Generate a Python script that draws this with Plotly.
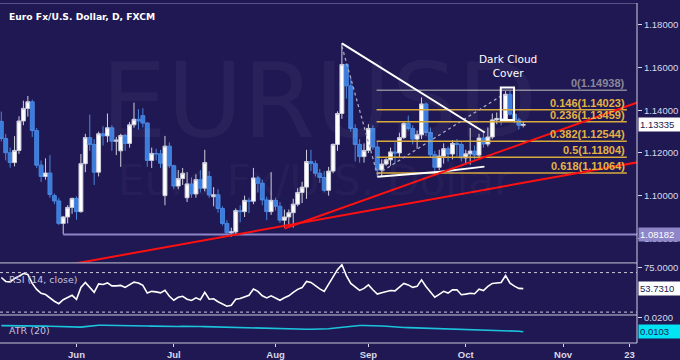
import plotly.graph_objects as go
import pandas as pd

# ---------------- data ----------------
dates = pd.bdate_range("2015-05-07", "2015-10-20").strftime("%Y-%m-%d").tolist()

open_ = [1.1348, 1.1268, 1.1201, 1.1155, 1.1212, 1.1350, 1.1409, 1.1440, 1.1305, 1.1143,
         1.1090, 1.1106, 1.1000, 1.0975, 1.0870, 1.0900, 1.0945, 1.0987, 1.0925, 1.1150,
         1.1272, 1.1240, 1.1110, 1.1290, 1.1280, 1.1318, 1.1255, 1.1210, 1.1282, 1.1245,
         1.1332, 1.1358, 1.1375, 1.1340, 1.1165, 1.1198, 1.1196, 1.1000, 1.1232, 1.1140,
         1.1045, 1.1080, 1.0990, 1.1055, 1.1008, 1.1075, 1.1035, 1.1090, 1.0995, 1.1004,
         1.0940, 1.0870, 1.0826, 1.0830, 1.0930, 1.0925, 1.0978, 1.0974, 1.1083, 1.1058,
         1.0980, 1.0925, 1.0978, 1.0950, 1.0885, 1.0900, 1.0920, 1.0960, 1.1015, 1.1040,
         1.1160, 1.1150, 1.1105, 1.1085, 1.1025, 1.1115, 1.1240, 1.1385, 1.1615, 1.1515,
         1.1315, 1.1240, 1.1183, 1.1212, 1.1315, 1.1228, 1.1120, 1.1148, 1.1168, 1.1205,
         1.1200, 1.1272, 1.1338, 1.1315, 1.1265, 1.1285, 1.1430, 1.1296, 1.1192, 1.1133,
         1.1185, 1.1220, 1.1195, 1.1245, 1.1240, 1.1177, 1.1196, 1.1209, 1.1190, 1.1270,
         1.1242, 1.1275, 1.1355, 1.1362, 1.1356, 1.1475, 1.1382, 1.1355, 1.1330]
high = [1.1394, 1.1289, 1.1225, 1.1279, 1.1372, 1.1445, 1.1467, 1.1450, 1.1317, 1.1165,
        1.1175, 1.1190, 1.1010, 1.0990, 1.0905, 1.0955, 1.0990, 1.0996, 1.1195, 1.1290,
        1.1380, 1.1265, 1.1300, 1.1325, 1.1385, 1.1330, 1.1275, 1.1290, 1.1290, 1.1345,
        1.1436, 1.1405, 1.1410, 1.1345, 1.1225, 1.1220, 1.1215, 1.1280, 1.1250, 1.1145,
        1.1120, 1.1130, 1.1110, 1.1085, 1.1100, 1.1120, 1.1215, 1.1115, 1.1040, 1.1030,
        1.0950, 1.0885, 1.0850, 1.0940, 1.0955, 1.1000, 1.0990, 1.1130, 1.1092, 1.1075,
        1.0995, 1.1110, 1.0990, 1.0970, 1.0935, 1.0935, 1.0985, 1.1035, 1.1065, 1.1215,
        1.1215, 1.1165, 1.1125, 1.1115, 1.1135, 1.1245, 1.1395, 1.1714, 1.1620, 1.1555,
        1.1335, 1.1265, 1.1245, 1.1335, 1.1330, 1.1255, 1.1170, 1.1175, 1.1225, 1.1250,
        1.1295, 1.1345, 1.1375, 1.1330, 1.1305, 1.1460, 1.1437, 1.1320, 1.1210, 1.1215,
        1.1245, 1.1230, 1.1260, 1.1265, 1.1250, 1.1215, 1.1317, 1.1235, 1.1290, 1.1295,
        1.1320, 1.1385, 1.1390, 1.1390, 1.1490, 1.14938, 1.1405, 1.1365, 1.1345]
low = [1.1254, 1.1165, 1.1131, 1.1137, 1.1196, 1.1330, 1.1370, 1.1275, 1.1130, 1.1064,
       1.1075, 1.0990, 1.0960, 1.0862, 1.0819, 1.0870, 1.0915, 1.0887, 1.0920, 1.1110,
       1.1210, 1.1050, 1.1090, 1.1235, 1.1250, 1.1210, 1.1190, 1.1135, 1.1210, 1.1225,
       1.1318, 1.1310, 1.1320, 1.1135, 1.1130, 1.1165, 1.1130, 1.0955, 1.1130, 1.1030,
       1.1030, 1.1050, 1.0970, 1.0990, 1.0990, 1.1015, 1.1020, 1.0990, 1.0950, 1.0920,
       1.0860, 1.0820, 1.0808, 1.0820, 1.0875, 1.0900, 1.0918, 1.0960, 1.1015, 1.0955,
       1.0885, 1.0910, 1.0930, 1.0872, 1.0850, 1.0850, 1.0850, 1.0950, 1.0965, 1.0985,
       1.1115, 1.1090, 1.1060, 1.1015, 1.1000, 1.1105, 1.1210, 1.1360, 1.1455, 1.1300,
       1.1160, 1.1155, 1.1155, 1.1200, 1.1215, 1.1087, 1.1090, 1.1140, 1.1140, 1.1150,
       1.1180, 1.1265, 1.1305, 1.1240, 1.1220, 1.1265, 1.1280, 1.1180, 1.1106, 1.1120,
       1.1150, 1.1160, 1.1170, 1.1185, 1.1160, 1.1145, 1.1145, 1.1170, 1.1175, 1.1225,
       1.1230, 1.1265, 1.1335, 1.1330, 1.1350, 1.1375, 1.1340, 1.1310, 1.1320]
close = [1.1268, 1.1201, 1.1155, 1.1212, 1.1350, 1.1409, 1.1440, 1.1305, 1.1143, 1.1090,
         1.1106, 1.1005, 1.0975, 1.0870, 1.0900, 1.0945, 1.0987, 1.0925, 1.1150, 1.1272,
         1.1240, 1.1110, 1.1290, 1.1280, 1.1318, 1.1255, 1.1260, 1.1282, 1.1245, 1.1332,
         1.1358, 1.1350, 1.1340, 1.1165, 1.1198, 1.1196, 1.1152, 1.1232, 1.1140, 1.1045,
         1.1080, 1.1105, 1.1055, 1.1008, 1.1075, 1.1035, 1.1155, 1.1003, 1.1004, 1.0940,
         1.0870, 1.0826, 1.0830, 1.0930, 1.0925, 1.0978, 1.0974, 1.1083, 1.1058, 1.0980,
         1.0925, 1.0978, 1.0950, 1.0885, 1.0900, 1.0920, 1.0960, 1.1015, 1.1040, 1.1160,
         1.1150, 1.1105, 1.1085, 1.1025, 1.1115, 1.1240, 1.1385, 1.1615, 1.1515, 1.1315,
         1.1240, 1.1183, 1.1212, 1.1315, 1.1228, 1.1120, 1.1148, 1.1168, 1.1205, 1.1200,
         1.1272, 1.1338, 1.1315, 1.1265, 1.1285, 1.1430, 1.1296, 1.1192, 1.1133, 1.1185,
         1.1220, 1.1195, 1.1245, 1.1240, 1.1177, 1.1196, 1.1209, 1.1190, 1.1270, 1.1242,
         1.1275, 1.1355, 1.1362, 1.1356, 1.1475, 1.1382, 1.1355, 1.1330, 1.13335]

rsi = [65, 61, 60.6, 64, 66.3, 69, 68, 59, 53, 49,
       47.8, 44.3, 41, 38.5, 42.5, 44.8, 47, 43, 55, 60,
       54.5, 50, 58.5, 58, 59.5, 56.5, 56.5, 57, 55, 58,
       60.3, 59.5, 57, 49.3, 51, 50.5, 49.5, 52, 46, 42,
       45, 46, 43, 41.8, 44.5, 42.6, 50, 43, 43.5, 40.5,
       38.5, 36, 37, 43, 43.8, 45.5, 47, 53.4, 51, 46.5,
       44.3, 46.5, 44.5, 42, 44.5, 46.5, 50, 53, 54.8, 61,
       60, 56.5, 53.5, 51, 58, 66, 73, 78, 67, 59,
       55.5, 52, 54, 57.5, 52.6, 48.3, 49.5, 50.5, 51.8, 51.5,
       55.5, 59, 57.5, 55, 56, 62.6, 56, 50.5, 45, 48,
       51, 49.3, 52.5, 52.6, 47.6, 48.2, 49, 48.6, 53.2, 51.8,
       56, 59, 59.3, 60, 67, 59.3, 56.3, 54, 53.731]

atr = [0.0146, 0.0146, 0.0147, 0.0147, 0.0146, 0.0146, 0.0145, 0.0145, 0.0144, 0.0143,
       0.0142, 0.0141, 0.0140, 0.0139, 0.0137, 0.0136, 0.0134, 0.0133, 0.0135, 0.0139,
       0.0143, 0.0146, 0.0148, 0.0148, 0.0148, 0.0148, 0.0147, 0.0147, 0.0147, 0.0146,
       0.0146, 0.0145, 0.0144, 0.0143, 0.0142, 0.0141, 0.0140, 0.0141, 0.0141, 0.0140,
       0.0140, 0.0141, 0.0142, 0.0142, 0.0141, 0.0140, 0.0139, 0.0138, 0.0137, 0.0136,
       0.0135, 0.0134, 0.0133, 0.0133, 0.0132, 0.0130, 0.0128, 0.0127, 0.0126, 0.0125,
       0.0125, 0.0124, 0.0124, 0.0123, 0.0122, 0.0122, 0.0121, 0.0121, 0.0120, 0.0120,
       0.0120, 0.0120, 0.0121, 0.0122, 0.0124, 0.0127, 0.0130, 0.0135, 0.0140, 0.0144,
       0.0146, 0.0147, 0.0147, 0.0147, 0.0146, 0.0145, 0.0143, 0.0141, 0.0138, 0.0136,
       0.0134, 0.0133, 0.0132, 0.0131, 0.0130, 0.0131, 0.0130, 0.0129, 0.0128, 0.0127,
       0.0126, 0.0125, 0.0124, 0.0123, 0.0122, 0.0121, 0.0120, 0.0119, 0.0118, 0.0117,
       0.0116, 0.0115, 0.0114, 0.0113, 0.0111, 0.0110, 0.0108, 0.0106, 0.0103]

tick_dates = ["2015-06-01", "2015-07-01", "2015-08-03", "2015-09-01", "2015-10-01", "2015-11-02", "2015-11-23"]
tick_labels = ["Jun", "Jul", "Aug", "Sep", "Oct", "Nov", "23"]
price_ticks = [1.08, 1.10, 1.12, 1.14, 1.16, 1.18]
fib_ratios = ["0", "0.146", "0.236", "0.382", "0.5", "0.618"]
fib_levels = [1.14938, 1.14023, 1.13459, 1.12544, 1.11804, 1.11064]
support_level = 1.08182
last_price = 1.13335
rsi_tick = 75
rsi_bands = [70, 30]
last_rsi = 53.7310
atr_tick = 0.02
last_atr = 0.0103

# trend lines drawn on the chart: (date0, price0, date1, price1)
red_lines = [("2015-05-06", 1.0616, "2015-11-25", 1.1157),
             ("2015-08-05", 1.0846, "2015-11-25", 1.1438)]
white_lines = [("2015-08-24", 1.1714, "2015-10-07 07:00", 1.1296),
               ("2015-09-03", 1.1089, "2015-09-23 05:00", 1.1112),
               ("2015-09-23 05:00", 1.1112, "2015-10-07 05:00", 1.1136)]
dotted_lines = [("2015-08-24", 1.1700, "2015-09-03", 1.1100),
                ("2015-09-03", 1.1100, "2015-10-12 19:00", 1.1465)]
fib_start, fib_end = "2015-09-02 20:00", "2015-11-20 10:00"
pattern_box = ("2015-10-12 22:00", "2015-10-15 22:00", 1.1507, 1.1355)

# ---------------- styling ----------------
BG = "#201852"
AXC = "#d8d8e8"
GOLD = "#d8a93c"
NUMF = dict(family="Liberation Sans, Arial, sans-serif", size=9.5, color=AXC)
PH = 346.0  # plot-area height in px


def py(ypx):
    return (PH - ypx) / PH


fig = go.Figure()
fig.add_trace(go.Candlestick(
    x=dates, open=open_, high=high, low=low, close=close,
    increasing=dict(fillcolor="#ffffff", line=dict(color="#cfcfdc", width=1)),
    decreasing=dict(fillcolor="#3b7ddd", line=dict(color="#4a86e0", width=1)),
    whiskerwidth=0, xaxis="x", yaxis="y", showlegend=False, hoverinfo="skip"))
fig.add_trace(go.Scatter(x=dates, y=rsi, mode="lines", line=dict(color="#ffffff", width=1.6),
                         xaxis="x", yaxis="y2", showlegend=False, hoverinfo="skip"))
fig.add_trace(go.Scatter(x=dates, y=atr, mode="lines", line=dict(color="#1cc3dc", width=1.6),
                         xaxis="x", yaxis="y3", showlegend=False, hoverinfo="skip"))

shapes = []
shapes.append(dict(type="line", xref="x", yref="y", x0=dates[14], x1="2015-11-25",
                   y0=support_level, y1=support_level, line=dict(color="#8e86c8", width=2)))
for lvl, r in zip(fib_levels, fib_ratios):
    col = "#8a8898" if r == "0" else GOLD
    shapes.append(dict(type="line", xref="x", yref="y", x0=fib_start, x1=fib_end,
                       y0=lvl, y1=lvl, line=dict(color=col, width=1.5)))
for (d0, p0, d1, p1) in dotted_lines:
    shapes.append(dict(type="line", xref="x", yref="y", x0=d0, y0=p0, x1=d1, y1=p1,
                       line=dict(color="#a8a8c0", width=1.3, dash="dot")))
for (d0, p0, d1, p1) in white_lines:
    shapes.append(dict(type="line", xref="x", yref="y", x0=d0, y0=p0, x1=d1, y1=p1,
                       line=dict(color="#ffffff", width=2)))
for (d0, p0, d1, p1) in red_lines:
    shapes.append(dict(type="line", xref="x", yref="y", x0=d0, y0=p0, x1=d1, y1=p1,
                       line=dict(color="#ff1010", width=2)))
shapes.append(dict(type="rect", xref="x", yref="y", x0=pattern_box[0], x1=pattern_box[1],
                   y0=pattern_box[2], y1=pattern_box[3], line=dict(color="#ffffff", width=2)))
for b in rsi_bands:
    shapes.append(dict(type="line", xref="paper", yref="y2", x0=0, x1=1, y0=b, y1=b,
                       line=dict(color="#c8c8d8", width=1, dash="dot")))
for ypx in [0.5, 264.5, 317.5, 346]:
    shapes.append(dict(type="line", xref="paper", yref="paper", x0=0, x1=1,
                       y0=py(ypx), y1=py(ypx),
                       line=dict(color="#c8c8d8" if ypx > 1 else "#5a5488", width=1)))
shapes.append(dict(type="line", xref="paper", yref="paper", x0=1, x1=1, y0=0, y1=1,
                   line=dict(color="#d0d0e0", width=1)))

annotations = []
annotations.append(dict(xref="paper", yref="paper", x=0.5, y=py(100), text="EURUSD",
                        showarrow=False, xanchor="center", yanchor="middle",
                        font=dict(family="DejaVu Sans", size=104, color="rgba(255,255,255,0.045)")))
annotations.append(dict(xref="paper", yref="paper", x=0.495, y=py(181), text="Euro Fx/U.S. Dollar",
                        showarrow=False, xanchor="center", yanchor="middle",
                        font=dict(family="DejaVu Sans", size=42, color="rgba(255,255,255,0.045)")))
annotations.append(dict(xref="paper", yref="paper", x=7 / 637, y=py(14), text="Euro Fx/U.S. Dollar, D, FXCM",
                        showarrow=False, xanchor="left", yanchor="middle",
                        font=dict(family="DejaVu Sans", size=9.2, color="#ffffff", weight="bold")))
annotations.append(dict(xref="x", yref="paper", x="2015-10-14 12:00", y=py(64), text="Dark Cloud<br>Cover",
                        showarrow=False, xanchor="center", yanchor="middle",
                        font=dict(family="DejaVu Sans", size=10.5, color="#ffffff")))
for lvl, r in zip(fib_levels, fib_ratios):
    col = "#8a8898" if r == "0" else "#e2b344"
    annotations.append(dict(xref="x", yref="y", x=fib_end, y=lvl, text=f"{r}({lvl:.5f})",
                            showarrow=False, xanchor="right", yanchor="bottom", yshift=-1,
                            font=dict(family="Liberation Sans, Arial", size=11, color=col, weight="bold")))
annotations.append(dict(xref="paper", yref="paper", x=7 / 637, y=py(281), text="RSI (14, close)",
                        showarrow=False, xanchor="left", yanchor="middle",
                        font=dict(family="DejaVu Sans", size=9.5, color="#c4c2dc")))
annotations.append(dict(xref="paper", yref="paper", x=7 / 637, y=py(333), text="ATR (20)",
                        showarrow=False, xanchor="left", yanchor="middle",
                        font=dict(family="DejaVu Sans", size=9.5, color="#c4c2dc")))

for (yref, val, txt, bg, fg) in [
        ("y", last_price, f"{last_price:.5f}", "#ffffff", BG),
        ("y", support_level, f"{support_level:.5f}", "#8e86c8", "#ffffff"),
        ("y2", last_rsi, f"{last_rsi:.4f}", "#ffffff", BG),
        ("y3", last_atr, f"{last_atr:.4f}", "#00e4f4", BG)]:
    annotations.append(dict(xref="paper", yref=yref, x=1, y=val, text=txt, showarrow=False,
                            xanchor="left", yanchor="middle", xshift=1, width=40, align="left",
                            bgcolor=bg, borderpad=1,
                            font=dict(family="Liberation Sans, Arial", size=9.5, color=fg)))

yaxis_common = dict(side="right", anchor="x", showgrid=False, zeroline=False, showline=False,
                    ticks="outside", ticklen=4, tickcolor=AXC, tickfont=NUMF, fixedrange=True)

fig.update_layout(
    width=680, height=360,
    margin=dict(l=0, r=43, t=0, b=14),
    paper_bgcolor=BG, plot_bgcolor=BG,
    showlegend=False, hovermode=False,
    shapes=shapes, annotations=annotations,
    xaxis=dict(domain=[0, 1], anchor="y3", type="date",
               range=["2015-05-06 17:00", "2015-11-24 17:00"],
               rangebreaks=[dict(bounds=["sat", "mon"])],
               rangeslider=dict(visible=False),
               tickvals=tick_dates, ticktext=tick_labels,
               tickfont=dict(family="Liberation Sans, Arial", size=9.5, color=AXC, weight="bold"),
               ticks="outside", ticklen=3, tickcolor=AXC,
               showgrid=False, zeroline=False, showline=False),
    yaxis=dict(domain=[py(264), 1], range=[1.0687, 1.1903],
               tickvals=price_ticks, ticktext=[f"{v:.5f}" for v in price_ticks], **yaxis_common),
    yaxis2=dict(domain=[py(317), py(265)], range=[27.58, 79.27],
                tickvals=[rsi_tick], ticktext=[f"{rsi_tick:.4f}"], **yaxis_common),
    yaxis3=dict(domain=[0, py(318)], range=[0.00233, 0.02173],
                tickvals=[atr_tick], ticktext=[f"{atr_tick:.4f}"], **yaxis_common),
    boxgap=0.12, boxgroupgap=0,
)

fig.write_html("out.html")
